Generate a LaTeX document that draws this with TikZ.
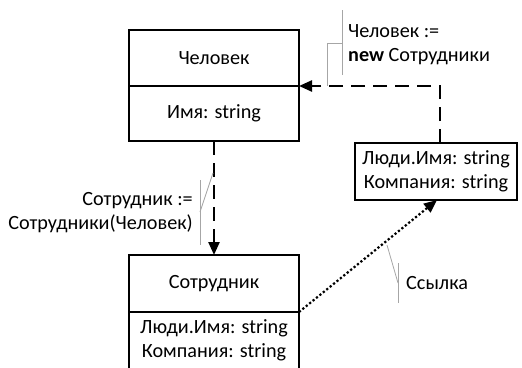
\documentclass[tikz,border=0pt]{standalone}
\usepackage{fontspec}
\setmainfont{Carlito}
\usetikzlibrary{arrows.meta}
\begin{document}
\begin{tikzpicture}[x=1pt,y=-1pt,
  every node/.style={font=\fontsize{20.2}{24}\selectfont, inner sep=0pt},
  umlpart/.style={draw, line width=1.7pt, outer sep=0pt, minimum width=170pt, align=center},
  flowdash/.style={line width=2.4pt, dash pattern=on 14pt off 8pt,
    -{Triangle[length=13pt,width=11pt]}},
  flowdot/.style={line width=2.2pt, dash pattern=on 2.2pt off 2.2pt,
    -{Triangle[length=13pt,width=11pt]}},
  callout/.style={draw=gray!70, line width=0.8pt},
  note/.style={align=left}]
\useasboundingbox (0,0) rectangle (522,367);

% class Человек
\node[umlpart, minimum height=56pt] (chel) at (214,58) {Человек};
\node[umlpart, minimum height=55pt, anchor=north] (chelattr) at (chel.south) {Имя: string};

% class Сотрудник (lower edge runs off the sheet)
\node[umlpart, minimum height=57pt] (sotr) at (214,283.5) {Сотрудник};
\node[umlpart, minimum height=57pt, anchor=north] (sotrattr) at (sotr.south)
  {Люди.Имя: string\\Компания: string};

% object box
\node[umlpart, minimum width=162pt, minimum height=57pt]
  (lyudi) at (436,171.5) {Люди.Имя: string\\Компания: string};

% connectors
\draw[flowdash] ([xshift=4pt]lyudi.north) |- (chel.south east);
\draw[flowdash] (chelattr.south) -- (sotr.north);
\draw[flowdot] (sotr.south east) -- ([xshift=1pt]lyudi.south);

% note: Человек := new Сотрудники
\node[note, anchor=west] (n1) at (348,45) {Человек :=\\\textbf{new} Сотрудники};
\coordinate (b1t) at (342,10);
\coordinate (b1b) at (342,75);
\coordinate (b1m) at (342,43);
\coordinate (b1k) at (327,43);
\coordinate (b1e) at (327,86);
\draw[callout] (b1t) -- (b1b);
\draw[callout] (b1m) -- (b1k) -- (b1e);

% note: Сотрудник := Сотрудники(Человек)
\node[note, anchor=east, align=right] (n2) at (193,213) {Сотрудник :=\\Сотрудники(Человек)};
\coordinate (b2t) at (200,180);
\coordinate (b2b) at (200,245);
\coordinate (b2m) at (200,212);
\coordinate (b2e) at (213,173);
\draw[callout] (b2t) -- (b2b);
\draw[callout] (b2m) -- (b2e);

% note: Ссылка
\node[note, anchor=west] (n3) at (406,283) {Ссылка};
\coordinate (b3t) at (398,263);
\coordinate (b3b) at (398,303);
\coordinate (b3m) at (398,283);
\coordinate (b3e) at (387,245);
\draw[callout] (b3t) -- (b3b);
\draw[callout] (b3m) -- (b3e);
\end{tikzpicture}
\end{document}
